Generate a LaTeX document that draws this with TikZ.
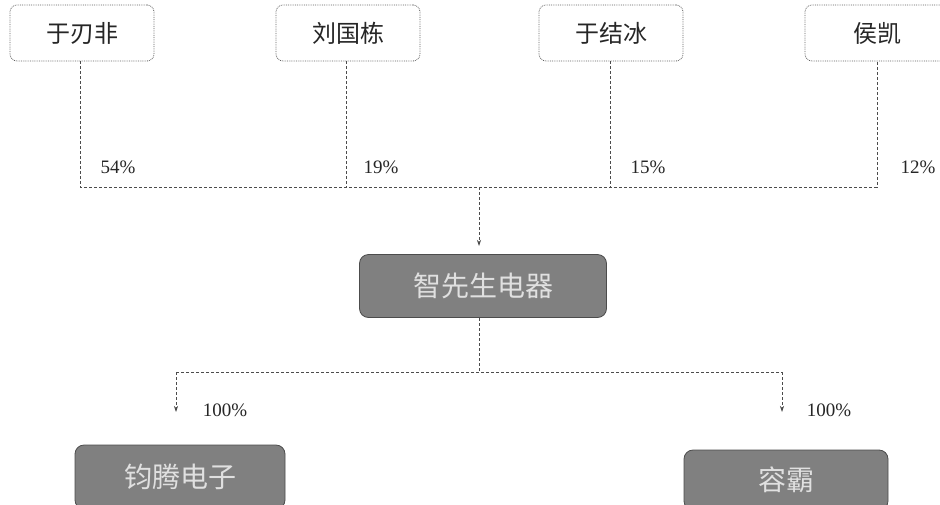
\documentclass[tikz,border=0pt]{standalone}
\usepackage{fontspec}
\setmainfont{Liberation Serif}
\newfontfamily\cjk{Noto Sans CJK SC}
\usetikzlibrary{arrows.meta}
\begin{document}
\begin{tikzpicture}[x=1pt,y=-1pt,
  person/.style={draw=gray!75!black, densely dotted, line width=0.8pt, rounded corners=7pt, fill=white,
    minimum width=144pt, minimum height=56pt, font=\cjk\fontsize{24}{26}\selectfont, text=black!85},
  firm/.style={draw=black!70, line width=0.8pt, rounded corners=9pt, fill=black!50,
    font=\cjk\fontsize{28}{30}\selectfont, text=black!12},
  link/.style={draw=gray!60!black, densely dashed, line width=0.7pt},
  arr/.style={link, -{Stealth[length=6pt,width=4pt]}},
  pct/.style={font=\fontsize{19}{21}\selectfont, text=black!85}
]
\useasboundingbox (0,0) rectangle (940,504);
% shareholders
\node[person] (a) at (82,33) {于刃非};
\node[person] (b) at (348,33) {刘国栋};
\node[person] (c) at (611,33) {于结冰};
\node[person] (d) at (877,33) {侯凯};
% main company
\node[firm, minimum width=247pt, minimum height=63pt] (m) at (483,286) {智先生电器};
% subsidiaries
\node[firm, minimum width=210pt, minimum height=64pt] (s1) at (180,477) {钧腾电子};
\node[firm, minimum width=204pt, minimum height=60pt] (s2) at (786,480) {容霸};
% junction coordinates
\coordinate (ja) at (80,187);
\coordinate (jb) at (346,187);
\coordinate (jc) at (610,187);
\coordinate (jd) at (877,187);
\coordinate (jm) at (479,187);
\coordinate (jl) at (176,372);
\coordinate (jr) at (782,372);
\coordinate (jmid) at (479,372);
\coordinate (t1) at (176,412);
\coordinate (t2) at (782,412);
\coordinate (tm) at (479,246);
% connectors
\draw[link] (a.south -| ja) -- (ja) -- (jd) -- (d.south -| jd);
\draw[link] (b.south -| jb) -- (jb);
\draw[link] (c.south -| jc) -- (jc);
\draw[arr] (jm) -- (tm);
\draw[link] (m.south -| jmid) -- (jmid);
\draw[link] (jl) -- (jr);
\draw[arr] (jl) -- (t1);
\draw[arr] (jr) -- (t2);
% percentages
\node[pct] (p1) at (118,167) {54\%};
\node[pct] (p2) at (381,167) {19\%};
\node[pct] (p3) at (648,167) {15\%};
\node[pct] (p4) at (918,167) {12\%};
\node[pct] (p5) at (225,410) {100\%};
\node[pct] (p6) at (829,410) {100\%};
\end{tikzpicture}
\end{document}
